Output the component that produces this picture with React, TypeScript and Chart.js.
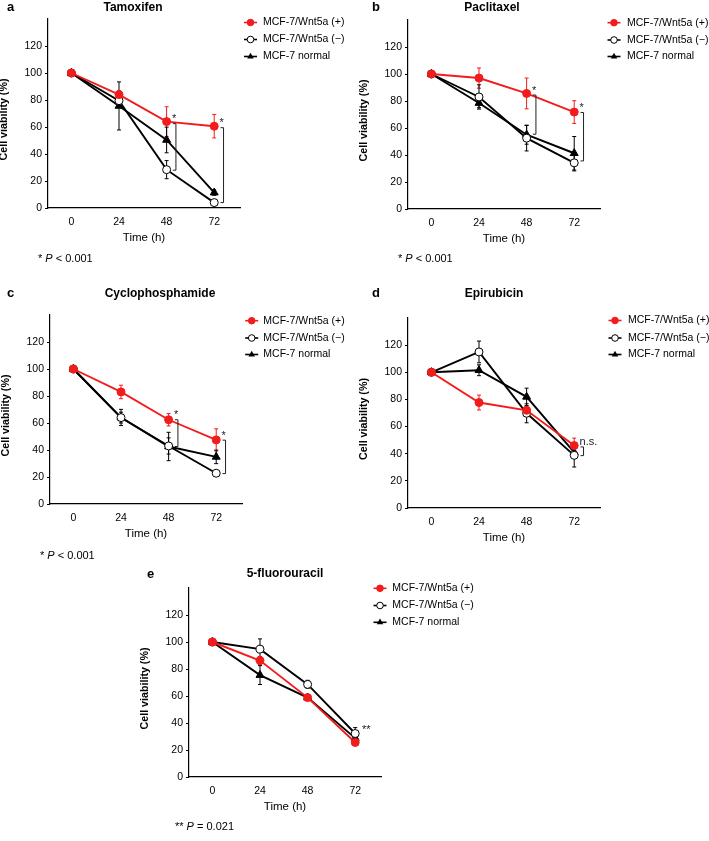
import React, { useEffect, useRef } from 'react';
import { Chart, registerables } from 'chart.js';

Chart.register(...registerables);

// ---------- data ----------
const timePoints = [0, 24, 48, 72];
const yTickValues = [0, 20, 40, 60, 80, 100, 120];
const seriesLabels = ['MCF-7/Wnt5a (+)', 'MCF-7/Wnt5a (−)', 'MCF-7 normal'];

// a: Tamoxifen
const tamoxifenPlus = [100, 84, 64, 60.6];
const tamoxifenPlusErr = [0, 3, 11, 8.7];
const tamoxifenMinus = [100, 79.5, 28.4, 4];
const tamoxifenMinusErr = [0, 3, 6.7, 1];
const tamoxifenNormal = [100, 75.6, 50.4, 11.4];
const tamoxifenNormalErr = [0, 17.8, 9.5, 2];
const tamoxifenMarks = [
  { t: 48, top: 62.5, bottom: 28, label: '*' },
  { t: 72, top: 59.5, bottom: 4, label: '*' },
];

// b: Paclitaxel
const paclitaxelPlus = [100, 97, 85.6, 71.8];
const paclitaxelPlusErr = [0, 7.5, 11.4, 8.4];
const paclitaxelMinus = [100, 83, 52.5, 34.2];
const paclitaxelMinusErr = [0, 9, 9.5, 6];
const paclitaxelNormal = [100, 78.5, 55, 41.3];
const paclitaxelNormalErr = [0, 3.5, 7, 12.4];
const paclitaxelMarks = [
  { t: 48, top: 84.4, bottom: 55.4, label: '*' },
  { t: 72, top: 71.5, bottom: 35.6, label: '*' },
];

// c: Cyclophosphamide
const cyclophosphamidePlus = [100, 83, 62.4, 47.5];
const cyclophosphamidePlusErr = [0, 5, 4.6, 8.2];
const cyclophosphamideMinus = [100, 64, 43, 22.8];
const cyclophosphamideMinusErr = [0, 4, 6, 1];
const cyclophosphamideNormal = [100, 64.1, 42.6, 34.9];
const cyclophosphamideNormalErr = [0, 6, 10.5, 5];
const cyclophosphamideMarks = [
  { t: 48, top: 62.4, bottom: 42.6, label: '*' },
  { t: 72, top: 47.3, bottom: 22.5, label: '*' },
];

// d: Epirubicin
const epirubicinPlus = [100, 77.7, 72, 46];
const epirubicinPlusErr = [0, 5.5, 2.5, 5.5];
const epirubicinMinus = [100, 115, 69.8, 38.8];
const epirubicinMinusErr = [0, 8, 7, 8.6];
const epirubicinNormal = [100, 101.5, 81.9, 41];
const epirubicinNormalErr = [0, 4, 6.4, 3];
const epirubicinMarks = [{ t: 72, top: 45, bottom: 38.6, label: 'n.s.' }];

// e: 5-fluorouracil
const fluorouracilPlus = [100, 86.3, 58.8, 25.6];
const fluorouracilPlusErr = [0, 3, 2, 1];
const fluorouracilMinus = [100, 94.7, 68.6, 32.2];
const fluorouracilMinusErr = [0, 7.6, 3, 4.4];
const fluorouracilNormal = [100, 75.5, 58.8, 28.8];
const fluorouracilNormalErr = [0, 7, 2, 2];
const fluorouracilMarks = [{ t: 72, top: 32.2, bottom: null, label: '**' }];

const footP001 = [
  { text: '* ', italic: false },
  { text: 'P', italic: true },
  { text: ' < 0.001', italic: false },
];
const footP021 = [
  { text: '** ', italic: false },
  { text: 'P', italic: true },
  { text: ' = 0.021', italic: false },
];

// ---------- styles / layout ----------
const FONT = '"Liberation Sans", Arial, Helvetica, sans-serif';
const RED = '#f21c1c';
const BLACK = '#000000';

type Series = { values: number[]; err: number[]; color: string; kind: 'plus' | 'minus' | 'normal' };

function makeSeries(plus: number[], plusErr: number[], minus: number[], minusErr: number[], normal: number[], normalErr: number[]): Series[] {
  return [
    { values: plus, err: plusErr, color: RED, kind: 'plus' },
    { values: minus, err: minusErr, color: BLACK, kind: 'minus' },
    { values: normal, err: normalErr, color: BLACK, kind: 'normal' },
  ];
}

const panels = [
  {
    letter: 'a', title: 'Tamoxifen',
    box: { x: 0, y: 0, w: 356, h: 272 },
    plot: { L: 48, R: 240, T: 19, B: 208 },
    titlePos: [133, 7.5], letterPos: [7, 7.5],
    legend: { mx: 250.5, tx: 263, ys: [22.5, 39.5, 56.5] },
    foot: { x: 38, y: 259, parts: footP001 },
    series: makeSeries(tamoxifenPlus, tamoxifenPlusErr, tamoxifenMinus, tamoxifenMinusErr, tamoxifenNormal, tamoxifenNormalErr),
    marks: tamoxifenMarks,
  },
  {
    letter: 'b', title: 'Paclitaxel',
    box: { x: 356, y: 0, w: 353, h: 272 },
    plot: { L: 408, R: 600, T: 20, B: 209 },
    titlePos: [492, 7.5], letterPos: [372, 7.5],
    legend: { mx: 614, tx: 627, ys: [22.7, 40, 56.5] },
    foot: { x: 398, y: 259, parts: footP001 },
    series: makeSeries(paclitaxelPlus, paclitaxelPlusErr, paclitaxelMinus, paclitaxelMinusErr, paclitaxelNormal, paclitaxelNormalErr),
    marks: paclitaxelMarks,
  },
  {
    letter: 'c', title: 'Cyclophosphamide',
    box: { x: 0, y: 280, w: 356, h: 285 },
    plot: { L: 50, R: 242, T: 315, B: 504 },
    titlePos: [160, 293.5], letterPos: [7, 293.5],
    legend: { mx: 251.7, tx: 263.3, ys: [320.7, 338, 354.5] },
    foot: { x: 40, y: 556, parts: footP001 },
    series: makeSeries(cyclophosphamidePlus, cyclophosphamidePlusErr, cyclophosphamideMinus, cyclophosphamideMinusErr, cyclophosphamideNormal, cyclophosphamideNormalErr),
    marks: cyclophosphamideMarks,
  },
  {
    letter: 'd', title: 'Epirubicin',
    box: { x: 356, y: 280, w: 353, h: 285 },
    plot: { L: 408, R: 600, T: 318, B: 508 },
    titlePos: [494, 293.5], letterPos: [372, 293.5],
    legend: { mx: 615, tx: 628, ys: [320.5, 338, 354.5] },
    foot: null,
    series: makeSeries(epirubicinPlus, epirubicinPlusErr, epirubicinMinus, epirubicinMinusErr, epirubicinNormal, epirubicinNormalErr),
    marks: epirubicinMarks,
  },
  {
    letter: 'e', title: '5-fluorouracil',
    box: { x: 135, y: 565, w: 400, h: 276 },
    plot: { L: 189, R: 381, T: 588, B: 777 },
    titlePos: [285, 574], letterPos: [147, 574],
    legend: { mx: 380, tx: 392.3, ys: [588.3, 605.5, 622.3] },
    foot: { x: 175, y: 827, parts: footP021 },
    series: makeSeries(fluorouracilPlus, fluorouracilPlusErr, fluorouracilMinus, fluorouracilMinusErr, fluorouracilNormal, fluorouracilNormalErr),
    marks: fluorouracilMarks,
  },
];

const Y_W = 40;
const X_H = 26;
const X_MIN = -11.8;
const X_MAX = 85;
const BRACKET_OFFSET_H = 4.7;

function drawMarker(ctx: CanvasRenderingContext2D, kind: string, color: string, x: number, y: number, r: number) {
  ctx.save();
  ctx.lineWidth = 1;
  if (kind === 'normal') {
    ctx.beginPath();
    for (let k = 0; k < 3; k++) {
      const a = (k * 2 * Math.PI) / 3;
      const px = x + Math.sin(a) * r * 1.15;
      const py = y - Math.cos(a) * r * 1.15;
      if (k === 0) ctx.moveTo(px, py); else ctx.lineTo(px, py);
    }
    ctx.closePath();
    ctx.fillStyle = color;
    ctx.fill();
  } else {
    ctx.beginPath();
    ctx.arc(x, y, r, 0, Math.PI * 2);
    ctx.fillStyle = kind === 'minus' ? '#ffffff' : color;
    ctx.fill();
    ctx.strokeStyle = color;
    ctx.stroke();
  }
  ctx.restore();
}

function makeDecor(p: any) {
  const ox = p.box.x;
  const oy = p.box.y;
  return {
    id: 'decor_' + p.letter,
    beforeDatasetsDraw(chart: any) {
      const ctx = chart.ctx;
      const ys = chart.scales.y;
      p.series.forEach((s: Series, i: number) => {
        const meta = chart.getDatasetMeta(i);
        ctx.save();
        ctx.strokeStyle = s.color;
        ctx.lineWidth = 1;
        s.err.forEach((e, j) => {
          if (!e) return;
          const x = meta.data[j].x;
          const y1 = ys.getPixelForValue(s.values[j] + e);
          const y2 = ys.getPixelForValue(s.values[j] - e);
          ctx.beginPath();
          ctx.moveTo(x, y1); ctx.lineTo(x, y2);
          ctx.moveTo(x - 2, y1); ctx.lineTo(x + 2, y1);
          ctx.moveTo(x - 2, y2); ctx.lineTo(x + 2, y2);
          ctx.stroke();
        });
        ctx.restore();
      });
    },
    afterDatasetsDraw(chart: any) {
      const ctx = chart.ctx;
      const xs = chart.scales.x;
      const ys = chart.scales.y;
      ctx.save();
      ctx.strokeStyle = '#222';
      ctx.fillStyle = '#222';
      ctx.lineWidth = 1;
      p.marks.forEach((m: any) => {
        const bx = xs.getPixelForValue(m.t + BRACKET_OFFSET_H);
        const yt = ys.getPixelForValue(m.top);
        ctx.font = `11px ${FONT}`;
        ctx.textAlign = 'left';
        ctx.textBaseline = 'alphabetic';
        if (m.bottom !== null) {
          const yb = ys.getPixelForValue(m.bottom);
          ctx.beginPath();
          ctx.moveTo(bx - 3, yt); ctx.lineTo(bx, yt); ctx.lineTo(bx, yb); ctx.lineTo(bx - 3, yb);
          ctx.stroke();
          ctx.fillText(m.label, bx - 4, yt - 1.5);
        } else {
          ctx.fillText(m.label, bx - 2.5, yt - 1);
        }
      });
      ctx.restore();
    },
    afterDraw(chart: any) {
      const ctx = chart.ctx;
      const area = chart.chartArea;
      ctx.save();
      ctx.fillStyle = '#000';
      // panel letter
      ctx.font = `bold 13px ${FONT}`;
      ctx.textAlign = 'left';
      ctx.textBaseline = 'middle';
      ctx.fillText(p.letter, p.letterPos[0] - ox, p.letterPos[1] - oy);
      // title
      ctx.font = `bold 12px ${FONT}`;
      ctx.textAlign = 'center';
      ctx.fillText(p.title, p.titlePos[0] - ox, p.titlePos[1] - oy);
      // y axis title
      ctx.save();
      ctx.translate(area.left - 43.5, (area.top + area.bottom) / 2 + 6);
      ctx.rotate(-Math.PI / 2);
      ctx.font = `bold 10.7px ${FONT}`;
      ctx.textAlign = 'center';
      ctx.textBaseline = 'middle';
      ctx.fillText('Cell viability (%)', 0, 0);
      ctx.restore();
      // x axis title
      ctx.font = `11.5px ${FONT}`;
      ctx.textAlign = 'center';
      ctx.textBaseline = 'middle';
      ctx.fillText('Time (h)', (area.left + area.right) / 2, area.bottom + 29.5);
      // legend
      p.series.forEach((s: Series, i: number) => {
        const mx = p.legend.mx - ox;
        const y = p.legend.ys[i] - oy;
        ctx.save();
        ctx.strokeStyle = s.color;
        ctx.lineWidth = 1.6;
        ctx.beginPath();
        ctx.moveTo(mx - 6.5, y); ctx.lineTo(mx + 6.5, y);
        ctx.stroke();
        ctx.restore();
        drawMarker(ctx, s.kind, s.color, mx, y, 3.3);
        ctx.fillStyle = '#000';
        ctx.font = `10.5px ${FONT}`;
        ctx.textAlign = 'left';
        ctx.textBaseline = 'middle';
        ctx.fillText(seriesLabels[i], p.legend.tx - ox, y);
      });
      // footnote
      if (p.foot) {
        let x = p.foot.x - ox;
        const y = p.foot.y - oy;
        ctx.textAlign = 'left';
        ctx.textBaseline = 'middle';
        p.foot.parts.forEach((part: any) => {
          ctx.font = `${part.italic ? 'italic ' : ''}11px ${FONT}`;
          ctx.fillText(part.text, x, y);
          x += ctx.measureText(part.text).width;
        });
      }
      ctx.restore();
    },
  };
}

function Panel({ p }: { p: any }) {
  const ref = useRef<HTMLCanvasElement>(null);
  useEffect(() => {
    const canvas = ref.current;
    if (!canvas) return;
    const tickFont = { family: FONT, size: 10.5 };
    const chart = new Chart(canvas, {
      type: 'line',
      data: {
        datasets: p.series.map((s: Series, i: number) => ({
          label: seriesLabels[i],
          data: timePoints.map((t, j) => ({ x: t, y: s.values[j] })),
          borderColor: s.color,
          borderWidth: 1.9,
          tension: 0,
          pointStyle: s.kind === 'normal' ? 'triangle' : 'circle',
          pointRadius: s.kind === 'normal' ? 4.6 : 4,
          pointBackgroundColor: s.kind === 'minus' ? '#ffffff' : s.color,
          pointBorderColor: s.color,
          pointBorderWidth: 1,
          clip: false,
        })),
      },
      options: {
        responsive: false,
        animation: false,
        devicePixelRatio: 1,
        events: [],
        layout: {
          padding: {
            left: p.plot.L - p.box.x - Y_W,
            right: p.box.x + p.box.w - p.plot.R,
            top: p.plot.T - p.box.y,
            bottom: p.box.y + p.box.h - p.plot.B - X_H,
          },
        },
        plugins: { legend: { display: false }, tooltip: { enabled: false }, title: { display: false } },
        scales: {
          x: {
            type: 'linear',
            min: X_MIN,
            max: X_MAX,
            afterBuildTicks: (scale: any) => {
              scale.ticks = timePoints.map((v) => ({ value: v }));
            },
            afterFit: (scale: any) => { scale.height = X_H; },
            grid: { display: true, drawOnChartArea: false, drawTicks: false },
            border: { display: true, color: '#000', width: 1.2 },
            ticks: { font: tickFont, color: '#000', padding: 8, autoSkip: false, maxRotation: 0 },
          },
          y: {
            type: 'linear',
            min: 0,
            max: 140,
            afterBuildTicks: (scale: any) => {
              scale.ticks = yTickValues.map((v) => ({ value: v }));
            },
            afterFit: (scale: any) => { scale.width = Y_W; },
            grid: { display: true, drawOnChartArea: false, drawTicks: true, tickLength: 3, color: '#000' },
            border: { display: true, color: '#000', width: 1.2 },
            ticks: { font: tickFont, color: '#000', padding: 3 },
          },
        },
      },
      plugins: [makeDecor(p)],
    } as any);
    return () => chart.destroy();
  }, [p]);
  return (
    <canvas
      ref={ref}
      width={p.box.w}
      height={p.box.h}
      style={{ position: 'absolute', left: p.box.x, top: p.box.y, width: p.box.w, height: p.box.h }}
    />
  );
}

export default function App() {
  return (
    <div style={{ position: 'absolute', left: 0, top: 0, width: 709, height: 841, background: '#ffffff', overflow: 'hidden' }}>
      {panels.map((p) => (
        <Panel key={p.letter} p={p} />
      ))}
    </div>
  );
}
